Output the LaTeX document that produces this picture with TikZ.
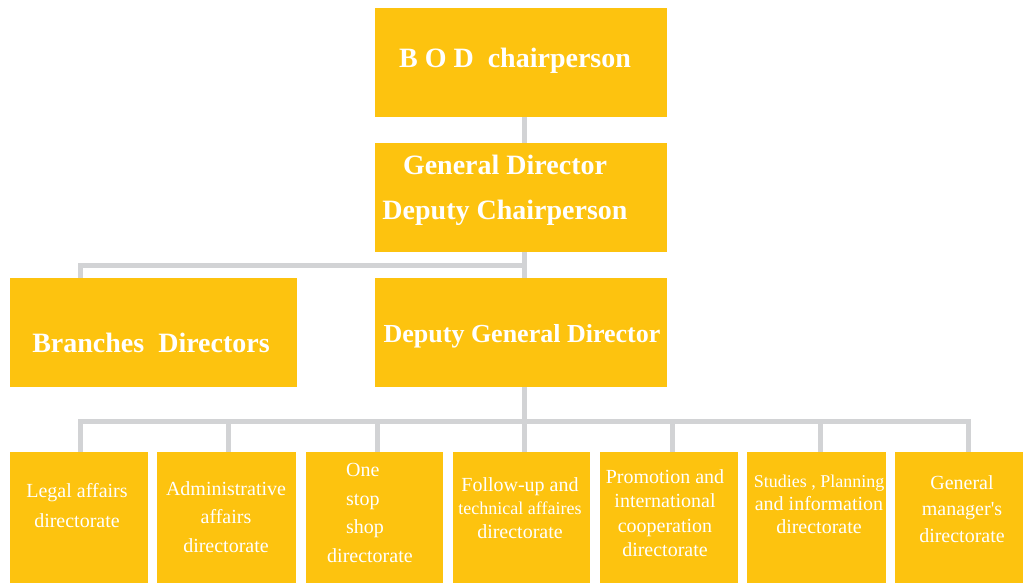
\documentclass[tikz,border=0pt]{standalone}
\usepackage{fontspec}
\setmainfont{Liberation Serif}
\begin{document}
\begin{tikzpicture}[x=1pt,y=-1pt,
  box/.style={fill=orgyellow, draw=none, anchor=north west, inner sep=0pt, outer sep=0pt},
  conn/.style={draw=orggray, line width=5pt, line join=miter},
  headtxt/.style={text=white, font=\bfseries\fontsize{28}{45}\selectfont, align=center, inner sep=0pt},
  subtxt/.style={text=white, font=\fontsize{20}{28.5}\selectfont, align=center, inner sep=0pt}]
\definecolor{orgyellow}{HTML}{FDC30F}
\definecolor{orggray}{HTML}{D2D3D5}
\useasboundingbox (0,0) rectangle (1023,583);
\begin{scope}
\clip (0,0) rectangle (1023,583);
% upper levels
\node[box, minimum width=292pt, minimum height=109pt] (bod) at (375,8) {};
\node[box, minimum width=292pt, minimum height=109pt] (gd) at (375,143) {};
\node[box, minimum width=287pt, minimum height=109pt] (br) at (10,278) {};
\node[box, minimum width=292pt, minimum height=109pt] (dgd) at (375,278) {};
% directorates
\node[box, minimum width=138pt, minimum height=131pt] (d1) at (10,452) {};
\node[box, minimum width=139pt, minimum height=131pt] (d2) at (157,452) {};
\node[box, minimum width=137pt, minimum height=131pt] (d3) at (306,452) {};
\node[box, minimum width=137pt, minimum height=131pt] (d4) at (453,452) {};
\node[box, minimum width=138pt, minimum height=131pt] (d5) at (600,452) {};
\node[box, minimum width=139pt, minimum height=131pt] (d6) at (747,452) {};
\node[box, minimum width=138pt, minimum height=131pt] (d7) at (895,452) {};
\end{scope}
% connector junctions
\coordinate (j0) at (524,117);
\coordinate (j1) at (524,265);
\coordinate (j2) at (524,421);
\coordinate (c1) at (80,452);
\coordinate (c2) at (228,452);
\coordinate (c3) at (377,452);
\coordinate (c4) at (524,452);
\coordinate (c5) at (672,452);
\coordinate (c6) at (820,452);
\coordinate (c7) at (968,452);
\coordinate (cb) at (80,278);
\draw[conn] (j0) -- (j0 |- gd.north);
\draw[conn] (j1 |- gd.south) -- (j1) -| (cb);
\draw[conn] (j1) -- (j1 |- dgd.north);
\draw[conn] (j2 |- dgd.south) -- (j2);
\draw[conn] (c1) |- (j2) -| (c7);
\draw[conn] (c2) -- (c2 |- j2);
\draw[conn] (c3) -- (c3 |- j2);
\draw[conn] (c4) -- (j2);
\draw[conn] (c5) -- (c5 |- j2);
\draw[conn] (c6) -- (c6 |- j2);
% labels
\node[headtxt] (bodt) at (515,61) {B O D~~chairperson};
\node[headtxt] (gdt) at (505,190) {General Director\\Deputy Chairperson};
\node[headtxt] (brt) at (151,343) {Branches~~Directors};
\node[headtxt, font=\bfseries\fontsize{26}{30}\selectfont] (dgdt) at (522,336) {Deputy General Director};
\node[subtxt, font=\fontsize{20}{30}\selectfont] (t1) at (77,506) {Legal affairs\\directorate};
\node[subtxt] (t2) at (226,517) {Administrative\\affairs\\directorate};
\node[subtxt, align=left, anchor=west] (t3) at (327,513) {\hspace*{19pt}One\\\hspace*{19pt}stop\\\hspace*{19pt}shop\\directorate};
\node[subtxt, font=\fontsize{20}{23.5}\selectfont] (t4) at (520,508) {Follow-up and\\{\fontsize{18}{23.5}\selectfont technical affaires}\\directorate};
\node[subtxt, font=\fontsize{20}{24.5}\selectfont] (t5) at (665,513) {Promotion and\\international\\cooperation\\directorate};
\node[subtxt, font=\fontsize{20}{23}\selectfont] (t6) at (819,504) {{\fontsize{18}{23}\selectfont Studies , Planning}\\and information\\directorate};
\node[subtxt, font=\fontsize{20}{26.5}\selectfont] (t7) at (962,509) {General\\manager\textquotesingle s\\directorate};
\end{tikzpicture}
\end{document}
